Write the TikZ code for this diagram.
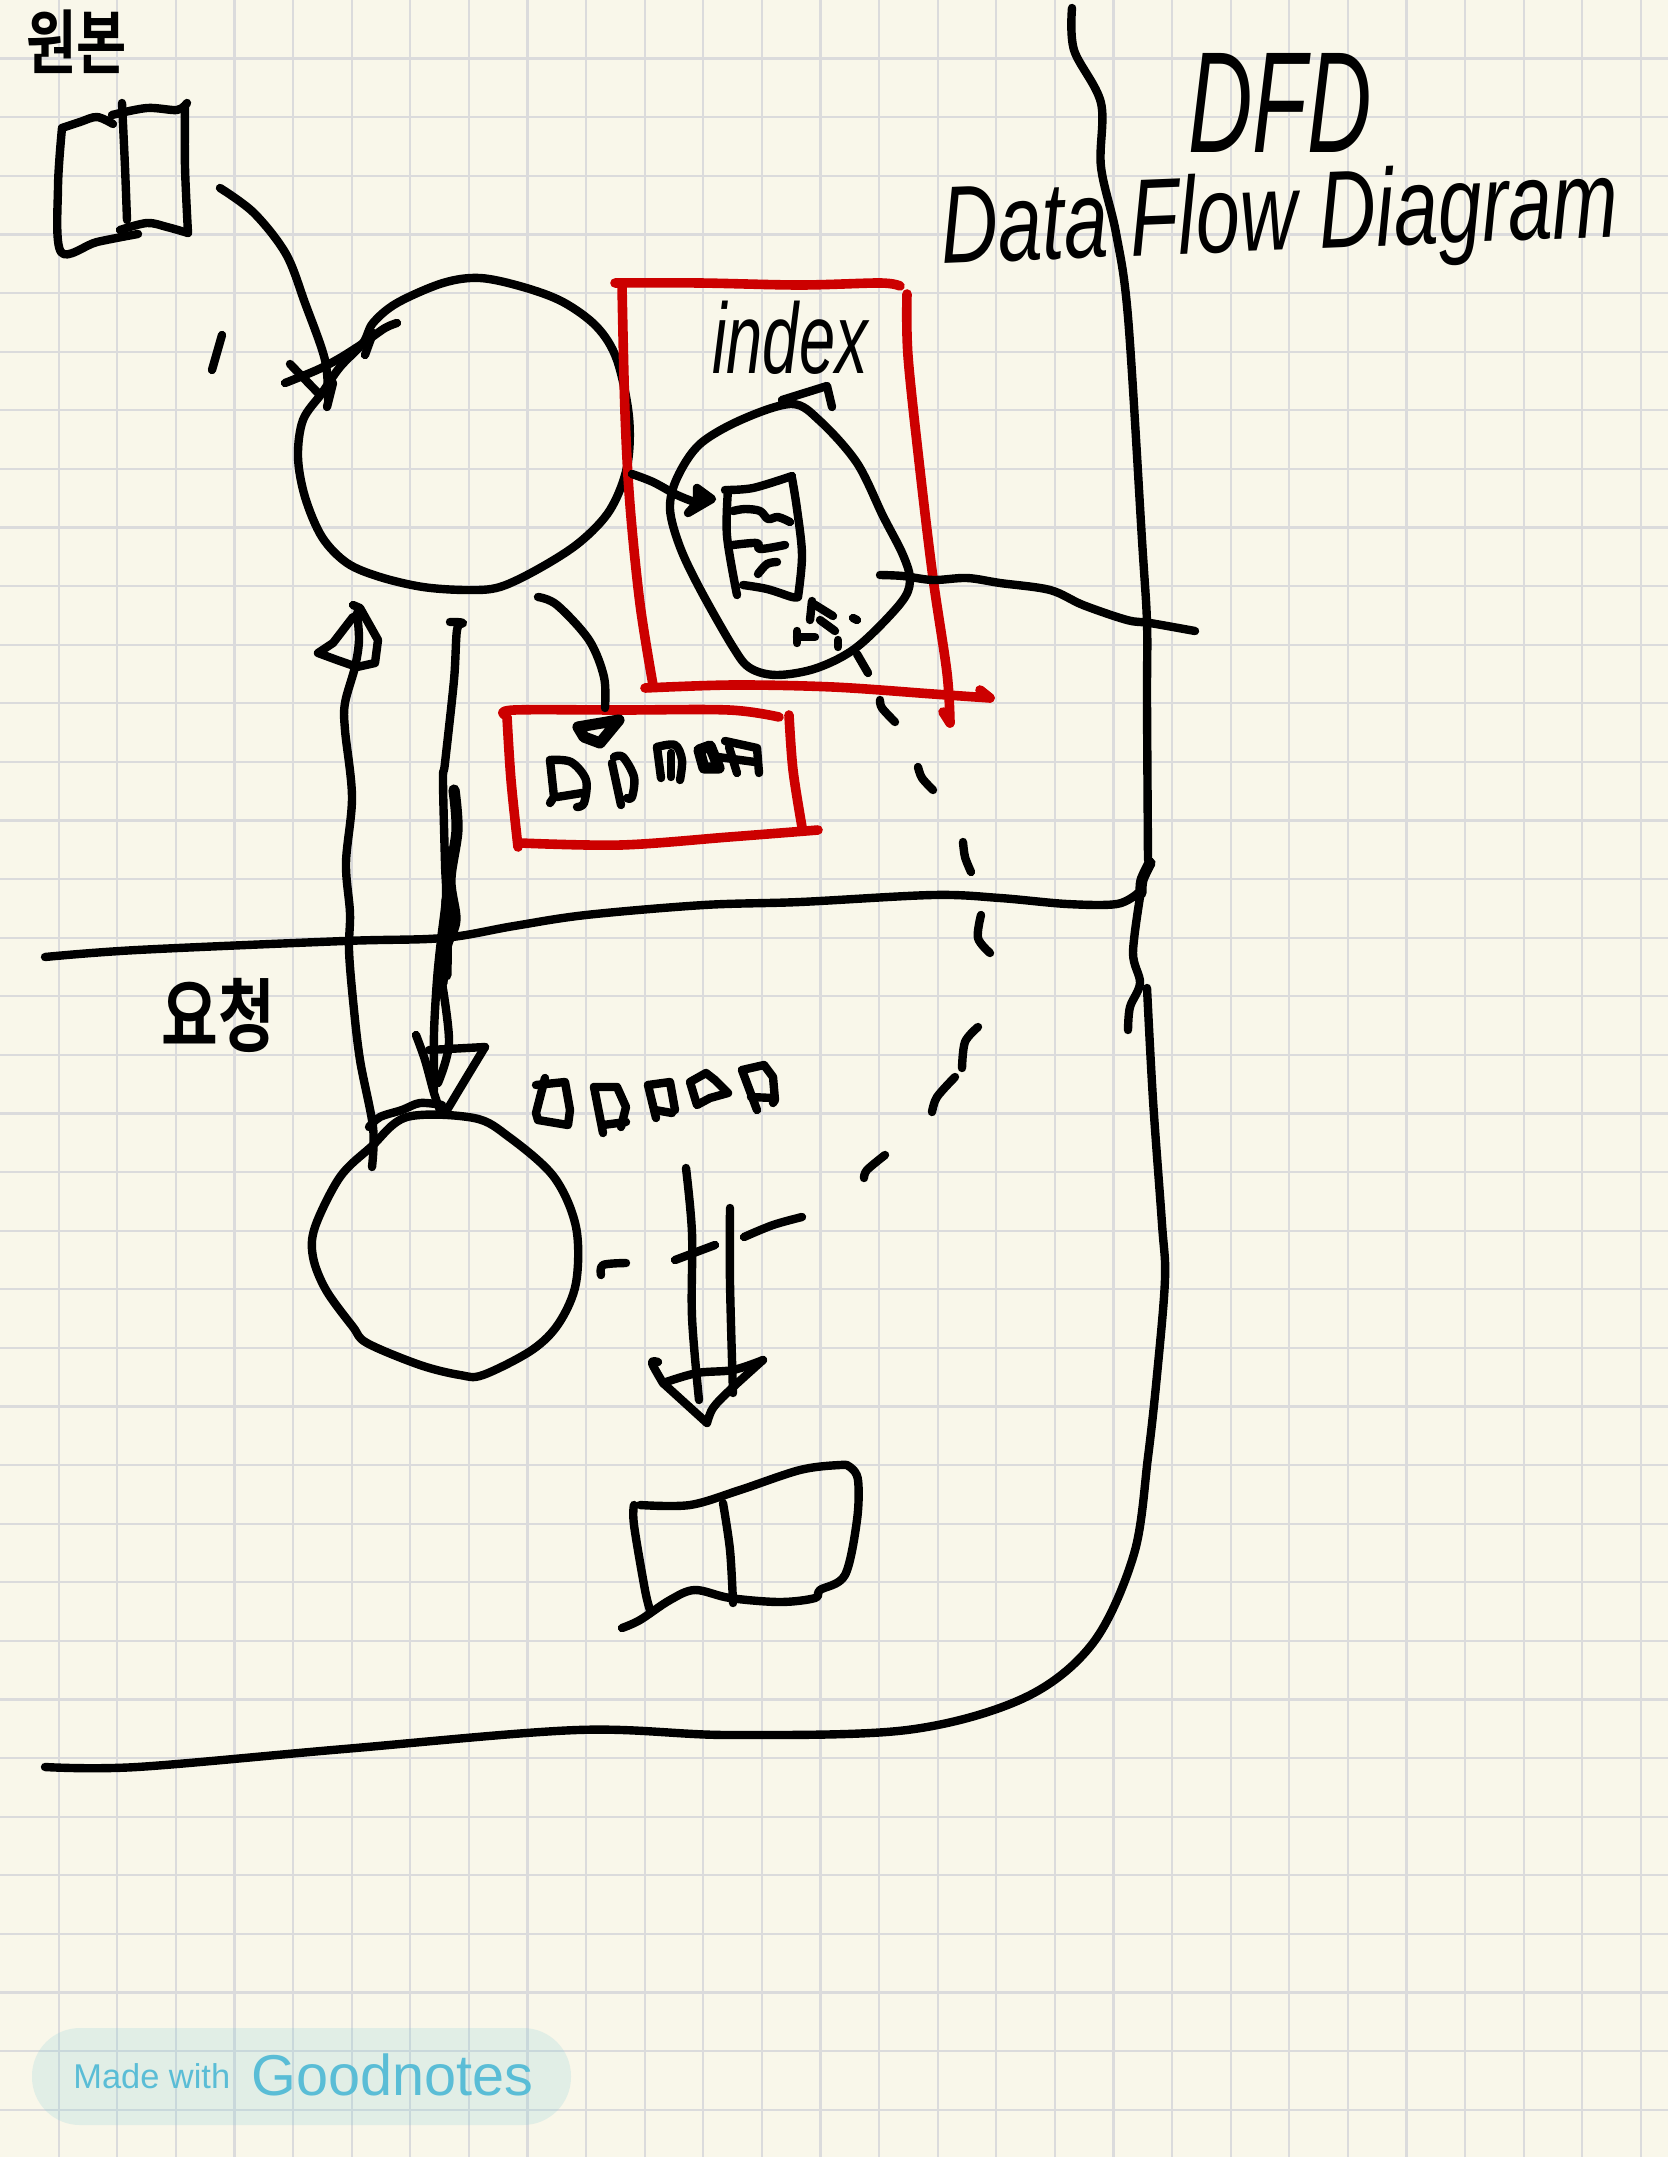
\documentclass[tikz,border=0pt]{standalone}
\usepackage{fontspec}
\setmainfont{Liberation Sans}
\newfontfamily\handfont{Liberation Sans}
\newfontfamily\krfont{Noto Sans CJK KR}[BoldFont={Noto Sans CJK KR Bold}]
\definecolor{paper}{HTML}{F9F7EA}
\definecolor{gridc}{HTML}{DBDBDC}
\definecolor{redc}{HTML}{CC0000}
\definecolor{badgec}{HTML}{8CCFD8}
\definecolor{badgetext}{HTML}{5ABDD6}
\tikzset{
  ink/.style={draw=black,line width=4.2pt,line cap=round,line join=round},
  thickink/.style={draw=black,line width=5.6pt,line cap=round,line join=round},
  redink/.style={draw=redc,line width=4.8pt,line cap=round,line join=round},
  gridline/.style={draw=gridc,line width=1.1pt},
  hand/.style={inner sep=0pt,outer sep=0pt,text=black},
}
\newcommand{\sk}[2][ink]{\draw[#1] plot[smooth,tension=.55] coordinates {#2};}
\newcommand{\skc}[2][ink]{\draw[#1] plot[smooth cycle,tension=.55] coordinates {#2};}
\newcommand{\pl}[2][ink]{\draw[#1] plot coordinates {#2};}
\begin{document}
\begin{tikzpicture}[x=0.5pt,y=-0.5pt]
\useasboundingbox (0,0) rectangle (1668,2157);
\fill[paper] (0,0) rectangle (1668,2157);
\foreach \k in {1,...,28}{\draw[gridline] ({\k*58.6},0) -- ({\k*58.6},2157);}
\foreach \k in {1,...,36}{\draw[gridline] (0,{\k*58.6}) -- (1668,{\k*58.6});}

% --- source book, top left
\sk{(62,128)(58,187)(61,252)(97,242)(138,234)}
\sk{(62,128)(80,122)(97,117)(113,124)}
\sk{(122,103)(125,167)(127,220)}
\sk{(112,115)(147,108)(177,110)(187,103)}
\sk{(185,107)(185,167)(188,233)}
\sk{(120,230)(147,223)(167,227)(188,233)}
\node[hand,font=\krfont\bfseries] (srclabel) at (77,42) {\scalebox{.78}[1]{\fontsize{35pt}{35pt}\selectfont 원본}};

% --- arrow from book to process 1
\sk{(220,188)(254,213)(286,254)(305,303)(325,360)(328,400)}
\sk{(285,383)(317,370)(340,358)(365,342)(385,328)(397,323)}
\sk{(290,364)(320,395)}
\sk{(333,383)(327,407)}
\sk{(365,355)(373,333)}
\sk{(222,335)(212,370)}

% --- process 1
\skc{(322,393)(303,420)(298,457)(305,497)(322,537)(347,563)(380,577)(423,587)(467,590)(500,587)(540,568)(580,542)(610,510)(627,467)(629,417)(617,360)(597,327)(563,302)(523,287)(480,278)(443,283)(397,303)(373,323)(363,343)(340,367)}

% --- index box
\sk[redink]{(615,283)(700,283)(800,285)(880,283)(900,286)}
\sk[redink]{(622,285)(625,413)(630,505)(640,604)(653,685)}
\sk[redink]{(645,688)(733,685)(833,687)(933,694)(990,698)}
\pl[redink]{(980,690)(990,698)}
\sk[redink]{(907,294)(908,356)(920,470)(933,578)(947,673)(950,723)}
\pl[redink]{(943,712)(950,723)}
\node[hand,font=\handfont\itshape,anchor=base] (indexlabel) at (790,373) {\scalebox{.65}[1]{\fontsize{50pt}{50pt}\selectfont index}};

% --- blob inside index
\skc{(792,404)(743,419)(700,444)(677,478)(670,509)(680,547)(700,589)(733,647)(750,668)(777,675)(817,668)(857,647)(900,604)(910,581)(903,555)(883,516)(857,463)(820,421)}
\pl{(782,400)(827,386)(832,407)}

% --- arrow into document
\sk{(632,474)(653,482)(677,495)(697,503)}
\draw[ink,fill=black] (697,488) -- (712,499) -- (688,513) -- (697,503) -- cycle;
% --- document
\sk{(725,490)(753,488)(792,476)}
\sk{(792,478)(797,509)(802,555)(798,597)}
\sk{(743,585)(767,589)(792,597)(798,597)}
\sk{(728,490)(727,536)(737,595)}
\sk{(733,511)(745,509)(760,511)(768,519)(778,517)(790,522)}
\sk{(733,545)(757,543)(760,549)(785,545)}
\sk{(758,574)(767,564)(777,562)}
\pl{(812,601)(810,620)}
\pl{(812,603)(833,616)}
\pl{(820,620)(835,631)}
\pl{(853,618)(857,620)}
\pl{(838,640)(838,647)}
\pl{(797,631)(797,643)}
\pl{(797,637)(815,637)}

% --- dashed flow
\pl{(857,654)(868,673)}
\sk{(880,700)(882,708)(895,722)}
\sk{(918,767)(922,778)(933,790)}
\sk{(963,842)(965,857)(971,872)}
\sk{(981,915)(978,938)(990,953)}
\sk{(978,1027)(965,1042)(962,1068)}
\sk{(955,1077)(937,1097)(932,1112)}
\sk{(885,1155)(867,1170)(864,1178)}
\sk{(802,1217)(773,1225)(744,1237)}
\pl{(715,1245)(675,1260)}
\sk{(626,1263)(603,1265)(601,1275)}

% --- exit line
\sk{(880,575)(903,576)(933,580)(967,578)(1000,583)(1050,590)(1083,605)(1127,620)(1150,623)(1195,631)}

% --- main vertical + bottom boundary
\sk{(1072,8)(1074,50)(1101,103)(1101,167)(1116,233)(1128,317)(1142,540)(1147,623)(1147,700)(1148,860)}
\sk[thickink]{(1150,863)(1142,880)(1141,893)}
\sk{(1140,897)(1133,953)(1140,983)(1130,1007)(1128,1030)}
\sk{(1147,988)(1153,1100)(1162,1224)(1165,1279)(1157,1375)(1148,1457)(1134,1554)(1093,1643)(1024,1698)(907,1730)(729,1735)(577,1730)(344,1749)(137,1767)(45,1767)}

% --- horizontal boundary
\sk{(45,957)(137,950)(344,941)(443,938)(514,926)(586,915)(704,905)(800,902)(933,895)(1000,898)(1067,904)(1117,904)(1138,893)}
\node[hand,font=\krfont\bfseries] (reqlabel) at (218,1015) {\scalebox{.77}[1]{\fontsize{40pt}{40pt}\selectfont 요청}};

% --- up arrow
\sk{(372,1167)(373,1127)(360,1060)(353,1000)(349,950)(350,913)(346,863)(352,797)(345,730)(345,703)(355,667)(359,640)(357,613)}
\pl{(353,605)(360,608)(378,640)(375,663)(357,667)(337,660)(318,653)(333,643)(353,617)}

% --- down arrow
\sk{(450,622)(463,623)(457,630)(454,680)(445,763)(443,780)(445,863)(446,897)(441,940)(437,980)(434,1033)(434,1090)}
\sk[thickink]{(454,790)(457,830)(450,880)(455,920)(446,947)(442,983)}
\sk{(442,983)(449,1043)(438,1083)}
\pl[thickink]{(447,900)(446,975)}
\sk{(416,1035)(425,1060)(434,1093)(440,1110)}
\pl{(429,1050)(485,1047)}
\sk{(485,1047)(465,1080)(447,1110)}

% --- process 2
\skc{(407,1117)(474,1118)(509,1137)(554,1177)(576,1227)(576,1283)(559,1323)(532,1350)(483,1375)(460,1375)(420,1365)(367,1343)(353,1327)(326,1290)(313,1257)(315,1227)(340,1177)(371,1147)}
\sk{(369,1127)(380,1117)(402,1110)(420,1103)(442,1105)}

% --- data store
\sk[redink]{(505,715)(514,710)(621,710)(729,710)(779,717)}
\sk[redink]{(507,717)(511,780)(518,847)}
\sk[redink]{(520,843)(621,845)(729,837)(818,830)}
\sk[redink]{(789,715)(793,770)(802,827)}
\sk{(538,597)(557,605)(589,640)(604,677)(605,708)}
\draw[thickink] (578,727) -- (619,720) -- (600,743) -- (584,737) -- cycle;

% --- data-store blocks
\sk{(550,760)(571,762)(586,780)(584,803)(577,807)}
\pl{(550,760)(554,797)(550,803)}
\pl{(557,797)(582,793)}
\sk{(614,757)(623,757)(634,777)(632,797)(627,798)}
\pl{(612,763)(621,805)}
\sk{(657,747)(675,745)(682,760)(680,780)}
\pl{(657,747)(661,778)}
\pl{(671,753)(671,777)}
\draw[thickink] (699,750) -- (710,746) -- (719,768) -- (704,768) -- cycle;
\pl{(725,741)(757,748)(759,773)}
\pl{(729,747)(737,773)}
\pl{(718,757)(755,762)}

% --- small blocks beside process 2
\pl{(536,1085)(565,1082)(570,1110)(568,1125)(538,1120)}
\pl{(545,1078)(536,1113)(538,1120)}
\pl{(594,1087)(617,1087)(626,1107)(621,1127)}
\pl{(594,1087)(603,1133)}
\pl{(603,1125)(626,1122)}
\pl{(648,1085)(670,1082)(675,1110)}
\pl{(655,1110)(672,1113)}
\pl{(648,1085)(656,1118)}
\pl{(690,1082)(706,1073)(715,1080)(728,1093)(710,1098)(697,1105)(690,1082)}
\pl{(742,1070)(764,1065)(773,1077)(775,1100)(773,1103)}
\pl{(751,1097)(773,1098)}
\pl{(742,1070)(757,1110)}

% --- double arrow
\sk{(686,1168)(692,1233)(692,1317)(699,1400)}
\sk{(730,1208)(730,1283)(733,1393)}
\sk{(658,1362)(652,1363)(663,1383)}
\pl{(663,1383)(707,1423)}
\sk{(707,1423)(713,1408)(730,1390)(763,1360)}
\sk{(663,1383)(697,1373)(733,1370)(763,1360)}

% --- target book
\sk{(634,1505)(634,1525)(645,1590)(650,1610)}
\sk{(640,1505)(690,1505)(740,1490)(800,1470)(840,1465)(850,1467)(858,1480)(857,1520)(845,1575)(820,1590)(815,1598)(780,1602)(730,1598)(695,1590)(670,1600)(640,1620)(622,1628)}
\sk{(723,1503)(730,1550)(733,1603)}

% --- titles
\node[hand,font=\handfont\itshape] (dfd) at (1280,103) {\scalebox{.62}[1]{\fontsize{72pt}{72pt}\selectfont DFD}};
\node[hand,font=\handfont\itshape,anchor=base,rotate=2.3] (dfdlong) at (1281,250) {\scalebox{.72}[1]{\fontsize{55pt}{55pt}\selectfont Data Flow Diagram}};

% --- badge
\fill[badgec,opacity=.22,rounded corners=24pt] (32,2028) rectangle (571,2125);
\node[inner sep=0pt,text=badgetext,anchor=base west] (madewith) at (73,2088) {\fontsize{17.2pt}{17.2pt}\selectfont Made with};
\node[inner sep=0pt,text=badgetext,anchor=base west] (goodnotes) at (251,2095) {\fontsize{28.8pt}{28.8pt}\selectfont Goodnotes};
\end{tikzpicture}
\end{document}
